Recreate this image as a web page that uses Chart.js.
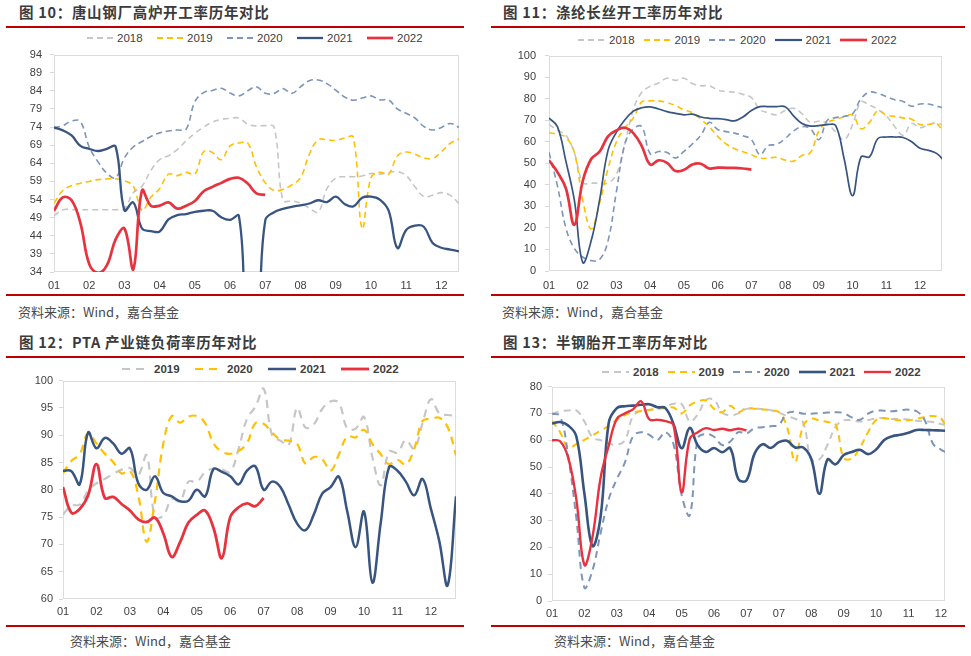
<!DOCTYPE html>
<html>
<head>
<meta charset="utf-8">
<script src="https://cdn.jsdelivr.net/npm/chart.js@4.4.0/dist/chart.umd.min.js"></script>
<style>
  body { margin:0; width:971px; height:656px; background:#fff; position:relative; overflow:hidden;
         font-family:"Noto Sans CJK SC","Liberation Sans",sans-serif; }
  .title { position:absolute; font-size:14.5px; font-weight:700; color:#3b3b3b; line-height:18px; white-space:nowrap; letter-spacing:0.7px; }
  .rule  { position:absolute; height:2px; background:#c00000; }
  .src   { position:absolute; font-size:13px; color:#4a4a4a; line-height:16px; white-space:nowrap; }
  canvas { position:absolute; }
  .lg    { position:absolute; height:14px; display:flex; align-items:center; font-family:"Liberation Sans",sans-serif;
           font-size:11.5px; color:#404040; white-space:nowrap; }
  .lg svg { margin-right:4px; }
</style>
</head>
<body>
<script>
/* ── shared labels ─────────────────────────────────── */
const months   = ['01','02','03','04','05','06','07','08','09','10','11','12'];
const months13 = ['01','02','03','04','05','06','07','07','08','09','10','11','12'];
const years5   = ['2018','2019','2020','2021','2022'];
const years4   = ['2019','2020','2021','2022'];

/* ── 图10 唐山钢厂高炉开工率 (weekly) ──────────────── */
const p1YTicks = [34,39,44,49,54,59,64,69,74,79,84,89,94];
const p1_2018 = [49.6,51.2,51.2,51.2,51.2,51.2,51.2,51.2,51.5,55.9,57.7,62,65,66.1,67.8,70.2,72.3,74,75.4,76.1,76.4,76.5,74.8,74.3,74.4,74,53.8,53.6,53,51.6,50.5,57,59.9,60.3,60.3,60.5,61.2,61,61.5,61.7,60.6,57.5,54.8,55.2,55.9,55.2,52.9];
const p1_2019 = [53,56.5,57.8,58.5,59,59.5,59.7,59.7,59.2,57.7,51,54.6,57,61,60.6,61.5,61,67.2,67,65,68.8,69.6,69.6,63,58.6,56.5,56.8,58,60,66.5,70.5,70.5,70.3,71,71.2,46,60,61.5,61,66,67.1,66.5,65.5,65.3,67.2,69.5,70.7];
const p1_2020 = [73.8,74.4,75.7,75.5,68.5,64.4,61.3,60,65.5,68.5,70,71.4,72.4,72.9,73.2,73.4,81,83.5,84.1,84.7,83.4,82.6,84,85.1,83.3,83.3,84.6,83.3,85.1,86.8,87,86,84.2,82.3,81.4,82,82.6,81.5,81.5,79,77.8,76.5,74.2,73.2,73.9,75,73.9];
const p1_2021 = [73.9,73.1,71.7,68.8,68,67.4,68,68.6,51,53.2,46,45.3,45.2,48.5,49.7,50,50.6,50.9,50.9,49.1,48.4,49.5,20,20,48.3,50.5,51.4,52,52.4,52.9,53.8,53.3,54.8,52.8,52.1,54.5,54.8,54,51,40.6,45.6,46.8,46.5,42,40.7,40.2,39.7];
const p1_2022 = [50.9,54.6,53.8,47.5,36.2,33.8,35.8,43,46,34.7,56.5,52.3,52.3,53.2,51.5,52.3,53.6,56.3,57.5,58.6,59.7,60,58.4,55.7,55.3];

/* ── 图11 涤纶长丝开工率 ───────────────────────────── */
const p2YTicks = [0,10,20,30,40,50,60,70,80,90,100];
const p2_2018 = [68,65.3,63,55,41,40.8,40.8,40.8,45,59,75,83,85.7,87.3,89.5,88.5,89.5,87,86,86,84,83.3,83,82,80.5,75,73.5,72.5,74.5,75.5,73,69,69.5,68.5,64.5,61,68,78.5,77,75,72,67,63,68.5,66.5,68,68.7,67];
const p2_2019 = [64.2,63.5,62,55,33,19.5,31.5,47.5,60,66.5,71,78.5,79,79,78.2,76.8,74.8,73.5,70.5,67,62.5,59,56.8,55.4,54,52.4,52.4,52.8,51.5,51,53.6,55,65,69,70.3,71.6,72.4,66,69,74.5,72.3,71.8,71.1,70.5,68,68,68.5,62];
const p2_2020 = [55.1,39.5,20,10.5,6.5,4.8,5.3,14,37,59,66,67,54.4,55.5,55,52.5,55.5,59,63,69,65.7,64.7,64,62.8,61,54,58.2,58.8,61.5,65,67,66,61,70,71.2,71.8,73,80,83,82.5,81,79.5,78.7,76.5,77.5,77.5,76.5,75.5];
const p2_2021 = [71,67,51,33,4,14,33,56,64.5,70.2,74.2,75.8,76.2,75.2,74,73.2,72.5,72.8,71.5,70.9,70.7,70.3,69.7,71.5,74.5,76.3,76.3,76.3,76.3,72,68.5,67.3,67.5,68,67.5,52,35,53,53,61.5,62.2,62.2,62,60,57,56,54.5,50.5];
const p2_2022 = [51.4,45.9,38.4,21.5,41.8,52,55.4,62.5,65.3,66.5,64,58,49.4,51.4,50.2,46.4,47,49.4,49.8,47.6,48,47.9,47.9,47.6,47.1];

/* ── 图12 PTA 产业链负荷率 ─────────────────────────── */
const p3YTicks = [60,65,70,75,80,85,90,95,100];
const p3_2019 = [75.5,77.1,77.3,79.8,81.2,82,82.9,83.7,84,82.7,86.3,75,75.3,78.3,77.9,81.5,81.5,83.2,83.9,83.7,83.3,87.5,93,95.2,98.5,90,89,88.2,95,91.4,92,94.8,96.2,95.9,91.2,91.2,93.3,86,80.8,87,86.8,89.1,87.5,92.2,96.6,94,93.7,93.6];
const p3_2020 = [83,85.3,86.5,90.4,88.5,86.6,85.1,83,83.5,79,70.5,78,88.5,93.5,92.3,93.4,93.5,92.2,88.5,87,86.6,87.1,88.5,92.2,92.1,90.5,89.2,89,88.4,84.8,86,85.6,83.5,86.5,89.8,89.6,91,88.4,86.5,84.7,85.5,84.6,87.5,92.6,93,93.2,91.5,86.3];
const p3_2021 = [83.5,83.4,81,90.5,87.6,89.5,88.5,86.6,87.6,81.2,80,82.5,79.4,78.8,77.9,78,80,78.8,83.8,83.3,82.5,81,83.5,84.3,80,81.5,80.5,77.2,73.8,72.6,75.5,79.3,80.5,82.4,76,69.5,76,63,74,84.2,83.5,81.5,79,82,76.5,70.6,62.5,78.8];
const p3_2022 = [80.5,75.8,76.5,79,84.7,78.5,78.7,77.4,76.2,74.6,74.1,74.9,72,67.7,70.4,74,75.4,76.2,73,67.5,75,76.8,77.5,77,78.5];

/* ── 图13 半钢胎开工率 ─────────────────────────────── */
const p4YTicks = [0,10,20,30,40,50,60,70,80];
const p4_2018 = [69.9,70.8,71.1,71.1,67,61,60,58.8,58.3,60,69,71,71.3,71.7,72.6,73.6,73.5,67,69.7,75,75,70.3,69.3,70,71.7,71.7,71.6,71.2,70.3,69,68,66.5,52.8,52.8,58.3,65,67.4,67.4,67,67.5,68.1,68.3,67.9,68,67.7,67.3,67,66.8,66,65.5];
const p4_2019 = [67.2,63,57.2,58.5,60.1,61.8,63.6,65.4,67.5,69.4,70.4,70.9,71.4,71.7,72,72.2,70,73,74.5,74.8,71.7,70.5,72.9,70.5,72,71.7,71.5,71.2,70.5,65,52,65.5,68,67.3,66.8,65.8,53.5,53.2,57.2,63,67.5,68.2,67.8,67.4,67.4,68,68.7,69,68.2,62];
const p4_2020 = [69.9,69,54,31,5,11.5,25.4,38,45.5,51.7,61.5,63,62,60.1,63,58.5,39.5,32,60.7,62.3,61.3,58.2,59.5,63,62.5,64.5,64.8,65.2,65.8,70,70.6,69.9,69.9,70.1,70.3,70.4,70.1,68.5,67.6,69.9,71,71,70.8,71.2,71.4,70.8,67.5,58.8,56.5,55];
const p4_2021 = [66.2,66.8,65.5,61.5,40,20.5,31.5,66.5,72,72.7,72.9,73.2,73.4,72.3,72,66,57,64.6,58,55.6,57.1,55.5,57,45.5,45,55,58.5,57.1,59.3,59.8,57.3,57.3,53,40,52.8,51,54.5,55.6,56.4,54.8,56.5,60.1,61.5,62,62.8,63.8,63.8,63.7,63.6,63.5];
const p4_2022 = [60,59.6,53.5,38,13.5,24,46,58,68,70,71.5,74.5,67.8,67.6,67.1,65.5,40.6,60.5,63,64.5,63.8,64.3,63.7,64.3,63.7];

/* ── colours ───────────────────────────────────────── */
const GRAY = '#c6c6c6', ORANGE = '#ffc000', STEEL = '#7d95b8', NAVY = '#385481', RED = '#e8333f';

/* thin grey frame round the plot area */
const frame = {
  id:'frame',
  beforeDatasetsDraw(c) {
    const a = c.chartArea, ctx = c.ctx;
    ctx.save();
    ctx.strokeStyle = '#dcdcdc'; ctx.lineWidth = 1;
    ctx.strokeRect(Math.round(a.left)+0.5, Math.round(a.top)+0.5, Math.round(a.width)-1, Math.round(a.height)-1);
    ctx.restore();
  }
};

const panels = [
  { title:'图 10：唐山钢厂高炉开工率历年对比', tx:19, ty:3, rule:[6,464], rt:26, rb:294, src:[18,304],
    names:years5, series:[p1_2018,p1_2019,p1_2020,p1_2021,p1_2022],
    colors:[GRAY,ORANGE,STEEL,NAVY,RED], widths:[1.6,1.6,1.6,2.3,2.7], dashed:[1,1,1,0,0], dash:[6,4],
    xLabels:months, xMax:46, yTicks:p1YTicks,
    box:[0,40,470,262], area:[54,49,459,272], yPad:8, xPad:7.5,
    lg:{x:87, y:38, pitch:70, line:26, bold:false} },
  { title:'图 11：涤纶长丝开工率历年对比', tx:503, ty:3, rule:[491,965], rt:26, rb:294, src:[502,304],
    names:years5, series:[p2_2018,p2_2019,p2_2020,p2_2021,p2_2022],
    colors:[GRAY,ORANGE,STEEL,NAVY,RED], widths:[1.6,1.6,1.6,1.7,2.7], dashed:[1,1,1,0,0], dash:[6,4],
    xLabels:months, xMax:46.6, yTicks:p2YTicks,
    box:[485,40,480,262], area:[549,50,942,271], yPad:9, xPad:8.5,
    lg:{x:578, y:40, pitch:65.5, line:27, bold:false} },
  { title:'图 12：PTA 产业链负荷率历年对比', tx:19, ty:333, rule:[6,464], rt:356, rb:625, src:[70,633],
    names:years4, series:[p3_2019,p3_2020,p3_2021,p3_2022],
    colors:[GRAY,ORANGE,NAVY,RED], widths:[2.2,2.2,2.5,2.8], dashed:[1,1,0,0], dash:[8,6],
    xLabels:months, xMax:47, yTicks:p3YTicks,
    box:[0,368,470,256], area:[63,377,456,599], yPad:6, xPad:6.5,
    lg:{x:122, y:369, pitch:73, line:28, bold:true} },
  { title:'图 13：半钢胎开工率历年对比', tx:503, ty:333, rule:[491,965], rt:356, rb:625, src:[554,633],
    names:years5, series:[p4_2018,p4_2019,p4_2020,p4_2021,p4_2022],
    colors:[GRAY,ORANGE,STEEL,NAVY,RED], widths:[2,2,2,2.6,2.4], dashed:[1,1,1,0,0], dash:[7,5],
    xLabels:months13, xMax:48.5, yTicks:p4YTicks,
    box:[485,374,480,250], area:[552,382,945,601], yPad:6, xPad:6.5,
    lg:{x:602, y:372, pitch:65.5, line:27, bold:true} }
];

function el(tag, cls, css, text) {
  const e = document.createElement(tag);
  if (cls) e.className = cls;
  Object.assign(e.style, css || {});
  if (text != null) e.textContent = text;
  document.body.appendChild(e);
  return e;
}

panels.forEach(p => {
  /* title, red rules, source note */
  el('div','title',{left:p.tx+'px',top:p.ty+'px'},p.title);
  el('div','rule',{left:p.rule[0]+'px',top:p.rt+'px',width:(p.rule[1]-p.rule[0])+'px'});
  el('div','rule',{left:p.rule[0]+'px',top:p.rb+'px',width:(p.rule[1]-p.rule[0])+'px'});
  el('div','src',{left:p.src[0]+'px',top:p.src[1]+'px'},'资料来源：Wind，嘉合基金');

  /* legend */
  p.names.forEach((n,i) => {
    const item = el('div','lg',{left:(p.lg.x+i*p.lg.pitch)+'px',top:(p.lg.y-7)+'px',fontWeight:p.lg.bold?'700':'400'});
    const w = Math.max(p.widths[i], 2.2);
    const dash = p.dashed[i] ? `stroke-dasharray="${p.dash.join(',')}"` : '';
    item.innerHTML = `<svg width="${p.lg.line}" height="8"><line x1="0" y1="4" x2="${p.lg.line}" y2="4" stroke="${p.colors[i]}" stroke-width="${w}" ${dash}/></svg><span>${n}</span>`;
  });

  /* chart */
  const [bx,by,bw,bh] = p.box, [al,at,ar,ab] = p.area;
  const cv = el('canvas',null,{left:bx+'px',top:by+'px',width:bw+'px',height:bh+'px'});
  cv.width = bw; cv.height = bh;
  const tickFont = { family:'Liberation Sans', size:11 };
  new Chart(cv, {
    type:'line',
    data:{
      datasets: p.series.map((ys,i) => ({
        label:p.names[i],
        data: ys.map((y,k) => ({x:k, y})),
        borderColor:p.colors[i], borderWidth:p.widths[i],
        borderDash: p.dashed[i] ? p.dash : [],
        pointRadius:0, tension:0.4, fill:false,
        order:p.series.length - i
      }))
    },
    options:{
      responsive:false, animation:false,
      layout:{ padding:{ top:at-by, right:bx+bw-ar, left:0, bottom:0 } },
      plugins:{ legend:{display:false}, tooltip:{enabled:false} },
      scales:{
        x:{
          type:'linear', min:0, max:p.xMax,
          afterBuildTicks: s => { s.ticks = p.xLabels.map((_,i) => ({value:i*4})); },
          afterFit: s => { s.height = by+bh-ab; },
          grid:{ display:false, drawTicks:false }, border:{ display:false },
          ticks:{ autoSkip:false, maxRotation:0, padding:p.xPad, color:'#404040', font:tickFont,
                  callback:(v,i) => p.xLabels[i] }
        },
        y:{
          min:p.yTicks[0], max:p.yTicks[p.yTicks.length-1],
          afterBuildTicks: s => { s.ticks = p.yTicks.map(v => ({value:v})); },
          afterFit: s => { s.width = al-bx; },
          grid:{ drawOnChartArea:false, tickLength:4, color:'#d9d9d9' }, border:{ display:false },
          ticks:{ padding:p.yPad, color:'#404040', font:tickFont }
        }
      }
    },
    plugins:[frame]
  });
});
</script>
</body>
</html>
